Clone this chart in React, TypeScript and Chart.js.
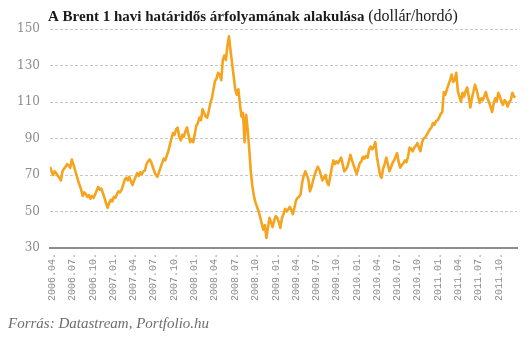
import React, { useEffect, useRef } from "react";
import { Chart, registerables } from "chart.js";

Chart.register(...registerables);

const TITLE_BOLD = "A Brent 1 havi határidős árfolyamának alakulása";
const TITLE_UNIT = "(dollár/hordó)";
const SOURCE = "Forrás: Datastream, Portfolio.hu";

// weekly series, first week starting 2006-03-22
const START_DATE = Date.UTC(2006, 2, 22);
const WEEK_MS = 7 * 86400000;

const brent2006 = [
  74.5, 72, 70, 72, 71, 69.5, 68.5, 67, 72, 73.5,
  74.5, 76, 75, 74, 78.5, 76, 73, 70, 67, 64.5,
  62, 58.5, 60.5, 59.5, 58, 59, 57, 58.5, 57.5, 59.5,
  61.5, 63.5, 62, 62.5, 60, 57.5, 54.5, 52, 54.5, 56.5,
  55.5,
];
const brent2007 = [
  58, 57.5, 59.5, 61, 60.5, 62, 64.5, 67.5, 68.5,
  67, 69, 66.5, 64.5, 67, 69, 71, 69.5, 71.5, 70.5,
  72, 72.5, 76, 77.5, 78.5, 77, 74.5, 72, 70, 69,
  71.5, 74, 76.5, 79, 78, 80.5, 83, 86.5, 90, 93,
  92, 95, 96, 91, 89, 92, 91, 94, 96, 92,
  88, 89.5, 88,
];
const brent2008 = [
  92.5, 97, 98.5, 101.5, 100, 106, 104,
  102, 101.5, 105, 109.5, 112, 117, 121.5, 123, 126, 125,
  122, 133, 135.5, 133, 141, 146, 138, 131, 124, 117,
  114, 117, 109, 102, 104, 88, 103, 95, 84, 72,
  64, 58.5, 55, 52.5, 50, 47, 43.5, 40, 42.5, 35.5,
  41, 46.5, 44, 41.5, 45,
];
const brent2009 = [
  47.5, 46.5, 44, 41, 46.5,
  48.5, 51.5, 50, 51, 52.5, 51, 48.5, 52, 56, 57.5,
  58, 59.5, 66, 69.5, 72, 70, 67.5, 61, 63.5, 67,
  70, 72.5, 74.5, 73, 70, 67, 68.5, 70, 66, 64.5,
  69, 74, 78, 76, 77.5, 76.5, 78, 79.5, 76, 72,
  73, 74.5, 77.5, 81, 78, 75.5, 73,
];
const brent2010 = [
  70.5, 73.5, 76.5,
  77.5, 80, 79, 80.5, 79.5, 84, 85.5, 84, 85.5, 88,
  80, 75, 70, 68.5, 73.5, 76, 79.5, 76, 72, 74,
  76.5, 78, 80, 82, 77, 74, 75.5, 76.5, 78, 77,
  80, 85, 84.5, 83, 85, 86, 87.5, 85, 83, 88,
  90, 90.5, 92, 93.5, 95, 96, 98.5, 97.5, 99.5,
];
const brent2011 = [
  100,
  101.5, 103.5, 104.5, 115.5, 114, 117, 119.5, 122, 125, 121,
  122, 126, 116, 113, 110, 115, 113, 116, 118, 113,
  107, 112, 115.5, 119.5, 117, 113, 109.5, 112, 111, 113,
  115.5, 112, 110, 107.5, 104.5, 109, 112, 110.5, 115, 113,
  110, 108.5, 111, 110, 107.5, 110, 111, 115, 113, 112.5,
];

const PRICES = [...brent2006, ...brent2007, ...brent2008, ...brent2009, ...brent2010, ...brent2011];

const QUARTER_LABELS = [
  "2006.04.", "2006.07.", "2006.10.",
  "2007.01.", "2007.04.", "2007.07.", "2007.10.",
  "2008.01.", "2008.04.", "2008.07.", "2008.10.",
  "2009.01.", "2009.04.", "2009.07.", "2009.10.",
  "2010.01.", "2010.04.", "2010.07.", "2010.10.",
  "2011.01.", "2011.04.", "2011.07.", "2011.10.",
];

const Y_MIN = 30;
const Y_MAX = 150;
const Y_STEP = 20;
const X_MAX_WEEKS = 300;

function labelToWeeks(label: string): number {
  const [y, m] = label.split(".");
  const d = Date.UTC(Number(y), Number(m) - 1, 1);
  return (d - START_DATE) / WEEK_MS;
}

const textPlugin = {
  id: "titleAndSource",
  afterDraw(chart: any) {
    const ctx = chart.ctx;
    ctx.save();
    ctx.textBaseline = "alphabetic";
    ctx.textAlign = "left";
    ctx.fillStyle = "#1a1a1a";
    ctx.font = 'bold 15px "Liberation Serif"';
    ctx.fillText(TITLE_BOLD, 48, 21);
    const w = ctx.measureText(TITLE_BOLD + " ").width;
    ctx.font = '16px "Liberation Serif"';
    ctx.fillText(TITLE_UNIT, 48 + w, 21);
    ctx.fillStyle = "#6e6e6e";
    ctx.font = 'italic 15px "Liberation Serif"';
    ctx.fillText(SOURCE, 8, 328);
    ctx.restore();
  },
};

export default function App() {
  const canvasRef = useRef<HTMLCanvasElement | null>(null);

  useEffect(() => {
    if (!canvasRef.current) return;
    const data = PRICES.map((v, i) => ({ x: i, y: v }));
    const tickPositions = QUARTER_LABELS.map(labelToWeeks);
    const chart = new Chart(canvasRef.current, {
      type: "line",
      data: {
        datasets: [
          {
            data,
            borderColor: "#f6a31e",
            borderWidth: 2.6,
            pointRadius: 0,
            tension: 0,
            borderJoinStyle: "round",
            fill: false,
          },
        ],
      },
      plugins: [textPlugin],
      options: {
        animation: false,
        responsive: false,
        devicePixelRatio: 1,
        layout: { padding: { left: 0, right: 13, top: 29, bottom: 0 } },
        plugins: {
          legend: { display: false },
          tooltip: { enabled: false },
          title: { display: false },
        },
        scales: {
          x: {
            type: "linear",
            min: 0,
            max: X_MAX_WEEKS,
            afterBuildTicks: (scale: any) => {
              scale.ticks = tickPositions.map((v) => ({ value: v }));
            },
            afterFit: (scale: any) => {
              scale.height = 93;
            },
            grid: { display: false, drawTicks: false, tickLength: 0 },
            border: { display: true, color: "#8c8c8c", width: 2 },
            ticks: {
              autoSkip: false,
              maxRotation: 90,
              minRotation: 90,
              padding: 5,
              color: "#8c8c8c",
              font: { family: '"Liberation Mono"', size: 10 },
              callback: (_v: any, i: number) => QUARTER_LABELS[i],
            },
          },
          y: {
            min: Y_MIN,
            max: Y_MAX,
            afterFit: (scale: any) => {
              scale.width = 50;
            },
            grid: {
              drawTicks: false,
              color: (c: any) => (c.tick && c.tick.value === Y_MIN ? "rgba(0,0,0,0)" : "#c8c8c8"),
              lineWidth: 1,
            },
            border: { display: false, dash: [3, 2] },
            ticks: {
              stepSize: Y_STEP,
              padding: 10,
              color: "#8c8c8c",
              font: { family: '"DejaVu Serif"', size: 12 },
            },
          },
        },
      },
    });
    return () => chart.destroy();
  }, []);

  return (
    <div style={{ position: "fixed", left: 0, top: 0, width: 530, height: 341, background: "#fff" }}>
      <canvas ref={canvasRef} width={530} height={341} style={{ width: 530, height: 341, display: "block" }} />
    </div>
  );
}
